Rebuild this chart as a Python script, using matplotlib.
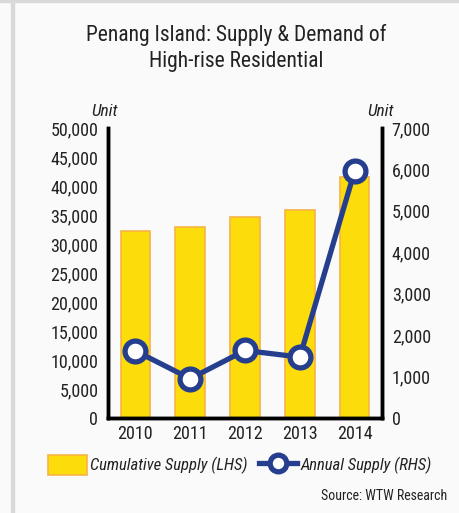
import matplotlib.pyplot as plt
from matplotlib.lines import Line2D
from matplotlib.patches import Patch, Rectangle
import numpy as np

years = ['2010', '2011', '2012', '2013', '2014']
cumulative = [32200, 32900, 34600, 35800, 41500]
annual = [1620, 950, 1630, 1470, 5960]

plt.rcParams['font.family'] = ['Roboto Condensed', 'Fira Sans Condensed', 'Open Sans Condensed',
                               'Archivo Narrow', 'Liberation Sans Narrow', 'DejaVu Sans']

bar_col = '#FCDC0A'
bar_edge = '#F7B446'
line_col = '#253F8E'
txt_col = '#222222'

fig = plt.figure(figsize=(4.59, 5.13), dpi=100, facecolor='#FAFAFA')
# frame lines on left and top
fig.patches.append(Rectangle((11/459, 0), 3/459, 1, transform=fig.transFigure,
                             color='#D9D9D9', zorder=0))
fig.patches.append(Rectangle((0, 1 - 2/513), 1, 2/513, transform=fig.transFigure,
                             color='#D9D9D9', zorder=0))

ax = fig.add_axes([108/459, 1 - 418/513, 274/459, 290/513])
ax.set_facecolor('#FAFAFA')
x = np.arange(len(years))
ax.bar(x, cumulative, width=0.54, color=bar_col, edgecolor=bar_edge, linewidth=1.2, zorder=2)
ax.set_xlim(-0.5, 4.5)
ax.set_ylim(0, 50000)
ax.set_yticks(np.arange(0, 50001, 5000))
ax.set_yticklabels([f'{v:,}' for v in range(0, 50001, 5000)])
ax.set_xticks(x)
ax.set_xticklabels(years)

ax2 = ax.twinx()
ax2.plot(x, annual, color=line_col, linewidth=3.8, marker='o', markersize=15,
         markerfacecolor='white', markeredgecolor=line_col, markeredgewidth=3.8,
         zorder=3, clip_on=False)
ax2.set_ylim(0, 7000)
ax2.set_yticks(np.arange(0, 7001, 1000))
ax2.set_yticklabels([f'{v:,}' for v in range(0, 7001, 1000)])

for a in (ax, ax2):
    a.spines['top'].set_visible(False)
    for s in ('left', 'right', 'bottom'):
        a.spines[s].set_linewidth(2.5)
        a.spines[s].set_color('black')
    a.tick_params(length=0, labelsize=13, labelcolor=txt_col, pad=7)
ax.tick_params(axis='x', pad=5)

fig.text(0.515, 1 - 35/513, 'Penang Island: Supply & Demand of', ha='center', va='center',
         fontsize=15.5, color=txt_col)
fig.text(0.515, 1 - 61/513, 'High-rise Residential', ha='center', va='center',
         fontsize=15.5, color=txt_col)
fig.text(105/459, 1 - 112/513, 'Unit', ha='center', va='center', fontsize=12.5,
         style='italic', color=txt_col)
fig.text(381/459, 1 - 112/513, 'Unit', ha='center', va='center', fontsize=12.5,
         style='italic', color=txt_col)

handles = [Patch(facecolor=bar_col, edgecolor=bar_edge, linewidth=1.2),
           Line2D([], [], color=line_col, linewidth=3.8, marker='o', markersize=12,
                  markerfacecolor='white', markeredgecolor=line_col, markeredgewidth=3.8)]
leg = fig.legend(handles, ['Cumulative Supply (LHS)', 'Annual Supply (RHS)'],
                 loc='center', bbox_to_anchor=(0.523, 1 - 465/513), ncol=2, frameon=False,
                 handlelength=2.3, handleheight=1.5, handletextpad=0.2, columnspacing=0.7,
                 prop={'style': 'italic', 'size': 12})
for t in leg.get_texts():
    t.set_color(txt_col)

fig.text(447/459, 1 - 496/513, 'Source: WTW Research', ha='right', va='center',
         fontsize=10, color=txt_col)

fig.savefig('out.png', dpi=100, facecolor=fig.get_facecolor())
